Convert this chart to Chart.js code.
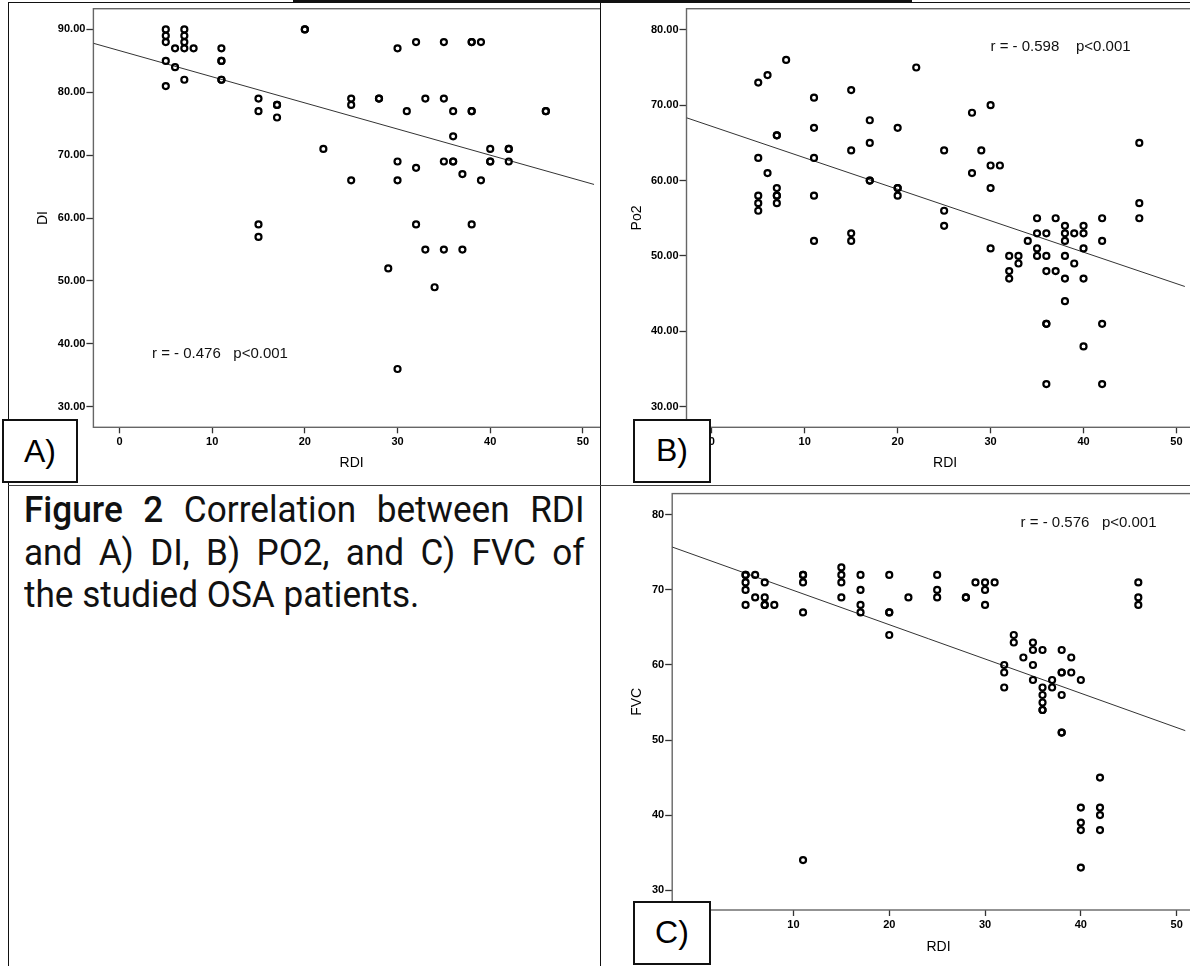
<!DOCTYPE html>
<html>
<head>
<meta charset="utf-8">
<script src="https://cdn.jsdelivr.net/npm/chart.js@4.4.0/dist/chart.umd.min.js"></script>
<style>
  body { margin: 0; width: 1190px; height: 966px; position: relative; overflow: hidden; background: #fff; font-family: "Liberation Sans", Arial, sans-serif; }
  .cell { position: absolute; overflow: hidden; }
  .rule { position: absolute; background: #111; }
  .tag { position: absolute; box-sizing: border-box; border: 2.5px solid #111; background: #fff; font-size: 32px; display: flex; align-items: center; justify-content: center; }
  .stat { position: absolute; font-size: 15px; white-space: pre; color: #111; }
  .cap { position: absolute; left: 23.7px; top: 489px; width: 590px; transform: scaleX(0.95); transform-origin: 0 0; font-family: Roboto, "Noto Sans", sans-serif; font-size: 37px; line-height: 42.5px; color: #111; }
  .cap .j { text-align: justify; text-align-last: justify; }
  .cap b { font-weight: 500; }
</style>
</head>
<body>

<div class="cell" style="left:0;top:0;width:600px;height:485px"><canvas id="chartA" width="616" height="485"></canvas></div>
<div class="cell" style="left:600px;top:0;width:590px;height:485px"><canvas id="chartB" width="610" height="485"></canvas></div>
<div class="cell" style="left:600px;top:486px;width:590px;height:480px"><canvas id="chartC" width="611" height="480"></canvas></div>

<!-- table rules -->
<div class="rule" style="left:293px;top:0;width:619px;height:3.3px"></div>
<div class="rule" style="left:8px;top:2px;width:1182px;height:1.2px"></div>
<div class="rule" style="left:7.5px;top:2px;width:1.3px;height:964px"></div>
<div class="rule" style="left:600px;top:2px;width:1.3px;height:964px"></div>
<div class="rule" style="left:8px;top:485px;width:1182px;height:1.4px;background:#444"></div>

<div class="stat" style="left:152px;top:343.9px">r = - 0.476   p&lt;0.001</div>
<div class="stat" style="left:990.5px;top:36.9px">r = - 0.598    p&lt;0.001</div>
<div class="stat" style="left:1020.6px;top:513.4px">r = - 0.576   p&lt;0.001</div>

<div class="tag" style="left:1.7px;top:419px;width:76.6px;height:64.3px">A)</div>
<div class="tag" style="left:633.3px;top:418.7px;width:77.4px;height:64.6px">B)</div>
<div class="tag" style="left:633px;top:900.7px;width:78px;height:64.5px">C)</div>

<div class="cap">
  <div class="j"><b>Figure 2</b> Correlation between RDI</div>
  <div class="j">and A) DI, B) PO2, and C) FVC of</div>
  <div>the studied OSA patients.</div>
</div>

<script>
// RDI vs DI
const rdiA = [5,5,5,5,5, 6,6, 7,7,7,7,7, 8, 11,11,11,11,11, 15,15,15,15, 17,17,17, 20,20, 22, 25,25,25, 28,28, 29,
  30,30,30,30, 31, 32,32,32, 33,33, 34, 35,35,35,35, 36,36,36,36, 37,37, 38,38,38,38,38, 39,39, 40,40,40, 42,42,42, 46,46];
const diA = [90,89,88,85,81, 87,84, 90,89,88,87,82, 87, 87,85,85,82,82, 79,77,59,57, 78,78,76, 90,90, 71, 79,78,66, 79,79, 52,
  87,69,66,36, 77, 88,68,59, 79,55, 49, 88,79,69,55, 77,73,69,69, 67,55, 88,88,77,77,59, 88,66, 71,69,69, 71,71,69, 77,77];

// RDI vs Po2
const rdiB = [5,5,5,5,5, 6,6, 7,7,7,7,7,7, 8, 11,11,11,11,11, 15,15,15,15, 17,17,17,17, 20,20,20,20, 22, 25,25,25, 28,28, 29,
  30,30,30,30, 31, 32,32,32, 33,33, 34, 35,35,35,35, 36,36,36,36,36,36, 37,37, 38,38,38,38,38,38, 39,39, 40,40,40,40,40,
  42,42,42,42, 46,46,46];
const po2B = [73,63,58,57,56, 74,61, 66,66,59,58,58,57, 76, 71,67,63,58,52, 72,64,53,52, 68,65,60,60, 67,59,59,58, 75, 64,56,54, 69,61, 64,
  70,62,59,51, 62, 50,48,47, 50,49, 52, 55,53,51,50, 53,50,48,41,41,33, 55,48, 54,53,52,50,47,44, 53,49, 54,53,51,47,38,
  55,52,41,33, 65,57,55];

// RDI vs FVC
const rdiC = [5,5,5,5,5, 6,6, 7,7,7,7, 8, 11,11,11,11,11, 15,15,15,15, 17,17,17,17, 20,20,20,20, 22, 25,25,25, 28,28, 29,
  30,30,30, 31, 32,32,32, 33,33, 34, 35,35,35,35, 36,36,36,36,36,36, 37,37, 38,38,38,38,38,38, 39,39, 40,40,40,40,40,
  42,42,42,42, 46,46,46];
const fvcC = [72,72,71,70,68, 72,69, 71,69,68,68, 68, 72,72,71,67,34, 73,72,71,69, 72,70,68,67, 72,67,67,64, 69, 72,70,69, 69,69, 71,
  71,70,68, 71, 60,59,57, 64,63, 61, 63,62,60,58, 62,57,56,55,54,54, 58,57, 62,59,59,56,51,51, 61,59, 58,41,39,38,33,
  45,41,40,38, 71,69,68];

// fit line end points
const fitA = [[-2.81, 87.8], [51.2, 65.35]];
const fitB = [[-2.72, 68.33], [50.9, 45.95]];
const fitC = [[-2.66, 75.72], [50.9, 51.25]];

const xTicks = [0, 10, 20, 30, 40, 50];
const yTicksA = [30, 40, 50, 60, 70, 80, 90];
const yTicksBC = [30, 40, 50, 60, 70, 80];

const tickFont = { family: 'Liberation Sans', size: 11, weight: 'bold' };
const titleFont = { family: 'Liberation Sans', size: 14 };

const framePlugin = {
  id: 'frame',
  beforeDatasetsDraw(chart) {
    const a = chart.chartArea, ctx = chart.ctx;
    ctx.save();
    ctx.strokeStyle = '#666';
    ctx.lineWidth = 1.4;
    ctx.strokeRect(a.left, a.top, a.right - a.left, a.bottom - a.top);
    ctx.restore();
  }
};

const makeScatter = (id, xs, ys, fit, cfg) => {
  const pts = xs.map((x, i) => ({ x: x, y: ys[i] }));
  return new Chart(document.getElementById(id), {
    type: 'scatter',
    data: {
      datasets: [{
        data: pts,
        pointRadius: 3,
        pointBorderWidth: 2.2,
        borderColor: '#000',
        backgroundColor: 'rgba(0,0,0,0)',
        order: 0
      }, {
        type: 'line',
        data: fit.map(p => ({ x: p[0], y: p[1] })),
        borderColor: '#333',
        borderWidth: 1,
        pointRadius: 0,
        order: 1
      }]
    },
    options: {
      responsive: false,
      animation: false,
      devicePixelRatio: 1,
      layout: { padding: { top: cfg.padTop, left: 0, right: 0, bottom: 0 } },
      plugins: { legend: { display: false }, tooltip: { enabled: false } },
      scales: {
        x: {
          type: 'linear',
          min: cfg.xMin, max: cfg.xMax,
          afterFit: s => { s.height = cfg.xH; },
          afterBuildTicks: s => { s.ticks = xTicks.map(v => ({ value: v })); },
          ticks: { font: tickFont, color: '#000', padding: 2, maxRotation: 0, autoSkip: false, callback: v => v },
          grid: { drawOnChartArea: false, drawTicks: true, tickLength: 6, tickColor: '#333', tickWidth: 1.3 },
          border: { display: false },
          title: { display: true, text: 'RDI', font: titleFont, color: '#000', padding: { top: 0, bottom: cfg.xTitlePad } }
        },
        y: {
          type: 'linear',
          min: cfg.yMin, max: cfg.yMax,
          afterFit: s => { s.width = cfg.yW; },
          afterBuildTicks: s => { s.ticks = cfg.yTicks.map(v => ({ value: v })); },
          ticks: { font: tickFont, color: '#000', padding: 1, autoSkip: false, callback: cfg.yFmt },
          grid: { drawOnChartArea: false, drawTicks: true, tickLength: 7, tickColor: '#333', tickWidth: 1.3 },
          border: { display: false },
          title: { display: true, text: cfg.yTitle, font: titleFont, color: '#000', padding: { top: cfg.yTitlePad, bottom: 0 } }
        }
      }
    },
    plugins: [framePlugin]
  });
};

makeScatter('chartA', rdiA, diA, fitA, {
  padTop: 8.7, xMin: -2.81, xMax: 52.9, xH: 57.7, xTitlePad: 13.6,
  yMin: 26.73, yMax: 93.3, yW: 93.4, yTicks: yTicksA, yFmt: v => v.toFixed(2), yTitle: 'DI', yTitlePad: 34.8
});
makeScatter('chartB', rdiB, po2B, fitB, {
  padTop: 8.7, xMin: -2.72, xMax: 52.94, xH: 57.7, xTitlePad: 13.6,
  yMin: 27.27, yMax: 82.8, yW: 86.5, yTicks: yTicksBC, yFmt: v => v.toFixed(2), yTitle: 'Po2', yTitlePad: 29.2
});
makeScatter('chartC', rdiC, fvcC, fitC, {
  padTop: 5.3, xMin: -2.66, xMax: 52.94, xH: 56, xTitlePad: 10.9,
  yMin: 27.35, yMax: 82.84, yW: 72.2, yTicks: yTicksBC, yFmt: v => v, yTitle: 'FVC', yTitlePad: 29.2
});
</script>
</body>
</html>
